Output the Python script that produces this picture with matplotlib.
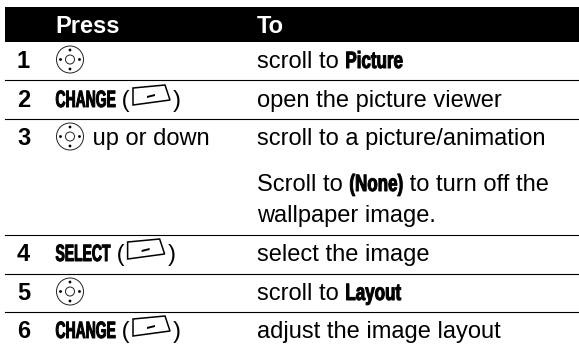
import matplotlib
matplotlib.use("Agg")
import matplotlib.pyplot as plt
from matplotlib.patches import Circle, Polygon, Rectangle
from matplotlib.patheffects import AbstractPathEffect
from matplotlib.transforms import Affine2D

plt.rcParams["font.family"] = ["Liberation Sans", "DejaVu Sans"]

W, H = 579, 350
BODY = 17
CAPS_SQUEEZE = 0.59
MIXED_SQUEEZE = 0.72

headers = ["Press", "To"]
step_numbers = ["1", "2", "3", "4", "5", "6"]
# a run is (text, is key word); "nav" and "key" stand for the phone icons
press_cells = [
    ["nav"],
    [("CHANGE", True), (" (", False), "key", (")", False)],
    ["nav", (" up or down", False)],
    [("SELECT", True), (" (", False), "key", (")", False)],
    ["nav"],
    [("CHANGE", True), (" (", False), "key", (")", False)],
]
to_cells = [
    [("scroll to ", False), ("Picture", True)],
    [("open the picture viewer", False)],
    [("scroll to a picture/animation", False)],
    [("select the image", False)],
    [("scroll to ", False), ("Layout", True)],
    [("adjust the image layout", False)],
]
note_lines = [
    [("Scroll to ", False), ("(None)", True), (" to turn off the", False)],
    [("wallpaper image.", False)],
]

row_baselines = [68, 107, 145, 261, 300, 338]
note_baselines = [191, 222]
rule_ys = [80, 119, 235, 274, 312]


class Tall(AbstractPathEffect):
    """Stretch a text upward from its baseline and thicken it, for the key words."""

    def __init__(self, y0, scale, lw):
        super().__init__()
        self.y0, self.scale, self.lw = y0, scale, lw

    def draw_path(self, renderer, gc, tpath, affine, rgbFace):
        gc0 = renderer.new_gc()
        gc0.copy_properties(gc)
        gc0.set_linewidth(self.lw)
        gc0.set_foreground("black")
        stretch = Affine2D().translate(0, -self.y0).scale(1, self.scale).translate(0, self.y0)
        renderer.draw_path(gc0, tpath, affine + stretch, rgbFace)
        gc0.restore()


fig = plt.figure(figsize=(W / 100, H / 100), dpi=100)
ax = fig.add_axes([0, 0, 1, 1])
ax.set_xlim(0, W)
ax.set_ylim(H, 0)
ax.axis("off")


def text_width(s, **kw):
    # spaces at the ends are not measured, so wrap the text in stand-ins
    rend = fig.canvas.get_renderer()
    a = ax.text(0, 0, "x" + s + "x", **kw)
    b = ax.text(0, 0, "xx", **kw)
    w = a.get_window_extent(rend).width - b.get_window_extent(rend).width
    a.remove()
    b.remove()
    return w


def draw_nav(x, base):
    cx, cy = x + 14.5, base - 8.5
    ax.add_patch(Circle((cx, cy), 13.5, fc="none", ec="#222222", lw=0.7))
    ax.add_patch(Circle((cx, cy), 4.5, fc="none", ec="#222222", lw=0.7))
    for dx, dy in [(0, -9.5), (0, 9.5), (-9.5, 0), (9.5, 0)]:
        ax.add_patch(Circle((cx + dx, cy + dy), 1.4, fc="black", ec="none"))
    return x + 30


def draw_key(x, base):
    x = x + 3
    pts = [(x, base - 19), (x + 32, base - 22), (x + 37, base - 7), (x, base - 2)]
    ax.add_patch(Polygon(pts, closed=True, fc="white", ec="black", lw=1.1))
    dash = [(x + 14, base - 11), (x + 22, base - 13), (x + 22, base - 11), (x + 14, base - 9)]
    ax.add_patch(Polygon(dash, closed=True, fc="black", ec="none"))
    return x + 40


def draw_runs(x, base, runs):
    for run in runs:
        if run == "nav":
            x = draw_nav(x, base)
        elif run == "key":
            x = draw_key(x, base)
        else:
            s, key = run
            if key:
                squeeze = CAPS_SQUEEZE if s.isupper() else MIXED_SQUEEZE
                size = BODY * squeeze
                t = ax.text(x, base, s, weight="bold", fontsize=size, va="baseline", color="black")
                y0 = ax.transData.transform((x, base))[1]
                t.set_path_effects([Tall(y0, 1 / squeeze, 0.7)])
                x += text_width(s, weight="bold", fontsize=size)
            else:
                ax.text(x, base, s, fontsize=BODY, va="baseline", color="black")
                x += text_width(s, fontsize=BODY)
    return x


ax.add_patch(Rectangle((5, 7), W - 5, 35, fc="black", ec="none"))
ax.text(55.5, 33, headers[0], color="white", weight="bold", fontsize=BODY, va="baseline")
ax.text(257, 33, headers[1], color="white", weight="bold", fontsize=BODY, va="baseline")

for y in rule_ys:
    ax.plot([5, W], [y, y], color="black", lw=0.8)

for num, base, press, to in zip(step_numbers, row_baselines, press_cells, to_cells):
    ax.text(17, base, num, weight="bold", fontsize=BODY, va="baseline")
    draw_runs(55.5, base, press)
    draw_runs(257, base, to)

for base, line in zip(note_baselines, note_lines):
    draw_runs(257, base, line)

fig.savefig("out.png", dpi=100)
